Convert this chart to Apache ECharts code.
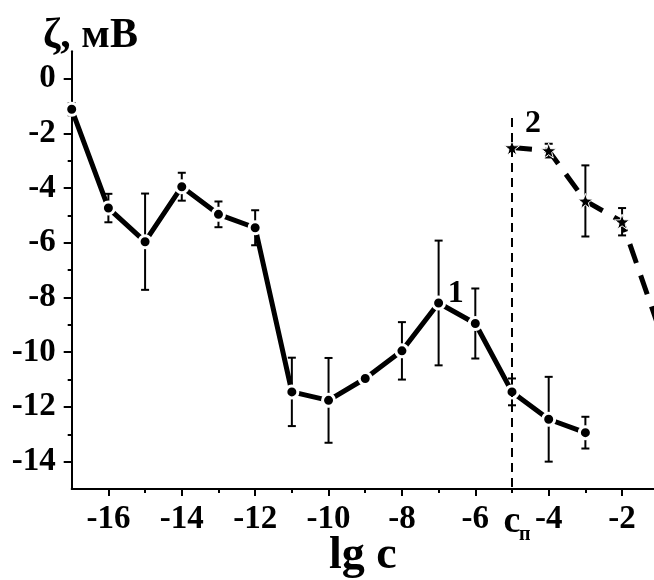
<!DOCTYPE html>
<html>
<head>
<meta charset="utf-8">
<script src="https://cdn.jsdelivr.net/npm/echarts@6/dist/echarts.min.js"></script>
<style>
html,body{margin:0;padding:0;background:#fff;}
#chart{width:654px;height:580px;}
</style>
</head>
<body>
<div id="chart"></div>
<script>
// ---- data ----
const lgC1 = [-17, -16, -15, -14, -13, -12, -11, -10, -9, -8, -7, -6, -5, -4, -3];
const zeta1 = [-1.12, -4.73, -5.96, -3.95, -4.96, -5.45, -11.45, -11.76, -10.96, -9.95, -8.2, -8.95, -11.45, -12.45, -12.94];
const err1 = [0.22, 0.52, 1.76, 0.51, 0.47, 0.64, 1.25, 1.55, 0.12, 1.05, 2.28, 1.28, 0.49, 1.55, 0.58];

const lgC2 = [-5, -4, -3, -2, -1];
const zeta2 = [-2.52, -2.63, -4.47, -5.23, -9.1];
const err2 = [0, 0.25, 1.3, 0.5, 0];

const xMajorTicks = [-16, -14, -12, -10, -8, -6, -4, -2];
const xMinorTicks = [-15, -13, -11, -9, -7, -5, -3];
const xLabelValues = [-16, -14, -12, -10, -8, -6, -5, -4, -2];
const yMajorTicks = [-14, -12, -10, -8, -6, -4, -2, 0];
const yMinorTicks = [-13, -11, -9, -7, -5, -3, -1];

const cpValue = -5;          // c_п position
const cpLineTop = -1.44;
const curveLabels = [
  {name: '1', x: -6.53, y: -7.87},
  {name: '2', x: -4.43, y: -1.66}
];

// ---- helpers ----
const FONT = '"Liberation Serif", "DejaVu Serif", serif';
const errData1 = lgC1.map((x, i) => [x, zeta1[i] - err1[i], zeta1[i] + err1[i]]);
const errData2 = lgC2.map((x, i) => [x, zeta2[i] - err2[i], zeta2[i] + err2[i], err2[i]]).filter(d => d[3] > 0);
const STAR = 'path://M0,-10 L2.35,-3.24 L9.51,-3.09 L3.8,1.24 L5.88,8.09 L0,4 L-5.88,8.09 L-3.8,1.24 L-9.51,-3.09 L-2.35,-3.24 Z';

function errRender(params, api) {
  const x = api.value(0), lo = api.value(1), hi = api.value(2);
  const p1 = api.coord([x, hi]);
  const p2 = api.coord([x, lo]);
  const w = 4;
  const st = {stroke: '#000', lineWidth: 2};
  return {
    type: 'group',
    children: [
      {type: 'line', shape: {x1: p1[0], y1: p1[1], x2: p2[0], y2: p2[1]}, style: st},
      {type: 'line', shape: {x1: p1[0] - w, y1: p1[1], x2: p1[0] + w, y2: p1[1]}, style: st},
      {type: 'line', shape: {x1: p2[0] - w, y1: p2[1], x2: p2[0] + w, y2: p2[1]}, style: st}
    ]
  };
}

const XMIN = -17, XMAX = -1.13, YMIN = -15, YMAX = 1;

const chart = echarts.init(document.getElementById('chart'));
chart.setOption({
  animation: false,
  backgroundColor: '#fff',
  title: {
    text: 'ζ, мВ',
    left: 38, top: 10,
    textStyle: {fontFamily: FONT, fontSize: 42, fontWeight: 'bold', color: '#000'}
  },
  grid: {left: 71.7, right: 0, top: 51.3, bottom: 91, containLabel: false, outerBoundsMode: 'none'},
  xAxis: [
    {
      type: 'value', min: XMIN, max: XMAX,
      position: 'bottom',
      name: 'lg c', nameLocation: 'middle', nameGap: 44, nameMoveOverlap: false,
      nameTextStyle: {fontFamily: FONT, fontSize: 46, fontWeight: 'bold', color: '#000'},
      axisLine: {show: true, onZero: false, lineStyle: {color: '#000', width: 2}},
      axisTick: {show: true, length: 7, lineStyle: {color: '#000', width: 2}, customValues: xMajorTicks},
      axisLabel: {
        show: true, margin: 14, customValues: xLabelValues,
        fontFamily: FONT, fontSize: 33, fontWeight: 'bold', color: '#000',
        formatter: v => (v === cpValue ? '{c|c}' : String(v)),
        rich: {c: {fontFamily: FONT, fontSize: 38, fontWeight: 'bold', color: '#000'}}
      },
      splitLine: {show: false}
    },
    {
      type: 'value', min: XMIN, max: XMAX,
      position: 'bottom',
      axisLine: {show: false, onZero: false},
      axisTick: {show: true, length: 4, lineStyle: {color: '#000', width: 2}, customValues: xMinorTicks},
      axisLabel: {
        show: true, margin: 36, customValues: [cpValue], align: 'left', padding: [0, 0, 0, 7],
        fontFamily: FONT, fontSize: 20, fontWeight: 'bold', color: '#000',
        formatter: () => 'п'
      },
      splitLine: {show: false}
    }
  ],
  yAxis: [
    {
      type: 'value', min: YMIN, max: YMAX,
      position: 'left',
      axisLine: {show: true, onZero: false, lineStyle: {color: '#000', width: 2}},
      axisTick: {show: true, length: 8, lineStyle: {color: '#000', width: 2}, customValues: yMajorTicks},
      axisLabel: {
        show: true, margin: 16, customValues: yMajorTicks,
        fontFamily: FONT, fontSize: 33, fontWeight: 'bold', color: '#000'
      },
      splitLine: {show: false}
    },
    {
      type: 'value', min: YMIN, max: YMAX,
      position: 'left',
      axisLine: {show: false, onZero: false},
      axisTick: {show: true, length: 4, lineStyle: {color: '#000', width: 2}, customValues: yMinorTicks},
      axisLabel: {show: false},
      splitLine: {show: false}
    }
  ],
  series: [
    {
      type: 'custom', name: 'err1', xAxisIndex: 0, yAxisIndex: 0,
      renderItem: errRender, data: errData1, z: 2, silent: true
    },
    {
      type: 'custom', name: 'err2', xAxisIndex: 0, yAxisIndex: 0,
      renderItem: errRender, data: errData2, z: 2, silent: true
    },
    {
      type: 'line', name: 'curve1', xAxisIndex: 0, yAxisIndex: 0,
      data: lgC1.map((x, i) => [x, zeta1[i]]),
      lineStyle: {color: '#000', width: 5},
      symbol: 'circle', symbolSize: 12, showAllSymbol: true,
      itemStyle: {color: '#000', borderColor: '#fff', borderWidth: 3},
      z: 3,
      markLine: {
        silent: true, symbol: ['none', 'none'], label: {show: false},
        lineStyle: {color: '#000', width: 2, type: [9, 6]},
        data: [[{coord: [cpValue, cpLineTop]}, {coord: [cpValue, YMIN]}]]
      }
    },
    {
      type: 'line', name: 'curve2', xAxisIndex: 0, yAxisIndex: 0,
      data: lgC2.map((x, i) => [x, zeta2[i]]),
      lineStyle: {color: '#000', width: 5, type: [20, 13]},
      symbol: STAR, symbolSize: 15, showAllSymbol: true,
      itemStyle: {color: '#000', borderColor: '#fff', borderWidth: 1},
      z: 4
    },
    {
      type: 'scatter', name: 'labels', xAxisIndex: 0, yAxisIndex: 0,
      data: curveLabels.map(d => ({value: [d.x, d.y], name: d.name})),
      symbolSize: 1, silent: true,
      itemStyle: {opacity: 0},
      label: {
        show: true, position: 'inside', formatter: p => p.name, opacity: 1,
        fontFamily: FONT, fontSize: 32, fontWeight: 'bold', color: '#000'
      },
      z: 5
    }
  ]
});
</script>
</body>
</html>
